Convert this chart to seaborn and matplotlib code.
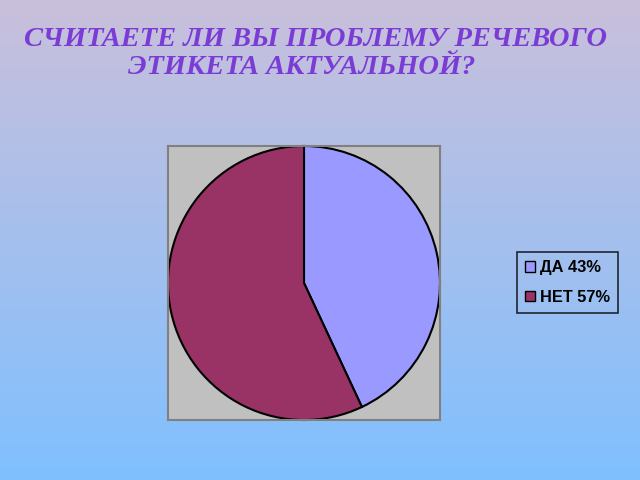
import numpy as np
import matplotlib
matplotlib.use("Agg")
import matplotlib.pyplot as plt
import seaborn as sns

# данные
labels = ["ДА 43%", "НЕТ 57%"]
values = [43, 57]
colors = ["#9999ff", "#993366"]
title_lines = ["СЧИТАЕТЕ ЛИ ВЫ ПРОБЛЕМУ РЕЧЕВОГО", "ЭТИКЕТА АКТУАЛЬНОЙ?"]

sns.set_theme(style="white")
plt.rcParams["font.family"] = ["Liberation Sans", "DejaVu Sans"]

fig = plt.figure(figsize=(6.4, 4.8), dpi=100)

# фон-градиент
bg = fig.add_axes([0, 0, 1, 1], zorder=-10)
top = np.array([0.79, 0.75, 0.86])
bottom = np.array([0.50, 0.75, 1.00])
t = np.linspace(0, 1, 256)[:, None]
grad = top * (1 - t) + bottom * t
bg.imshow(grad[:, None, :].repeat(2, axis=1), aspect="auto", extent=[0, 1, 0, 1])
bg.axis("off")

# заголовок
for (x, y), line in zip([(316, 40), (302, 68)], title_lines):
    fig.text(x / 640, 1 - y / 480, line, ha="center", va="center", color="#7a3cd4",
             fontsize=20.5, fontweight="bold", fontstyle="italic",
             family="Liberation Serif")

ax = fig.add_axes([168 / 640, 1 - 420 / 480, 272 / 640, 274 / 480])
wedges, _ = ax.pie(values, colors=colors, startangle=90, counterclock=False,
                   radius=1.0, wedgeprops=dict(edgecolor="black", linewidth=1.5))
ax.set_xlim(-1.0, 1.0)
ax.set_ylim(-1.0, 1.0)
ax.set_aspect("auto")
ax.set_frame_on(True)
ax.set_facecolor("#c0c0c0")
for s in ax.spines.values():
    s.set_visible(True)
    s.set_color("#808080")
    s.set_linewidth(1.5)
ax.set_xticks([])
ax.set_yticks([])

leg = fig.legend(wedges, labels, loc="upper left",
                 bbox_to_anchor=(517 / 640, 1 - 252 / 480),
                 bbox_transform=fig.transFigure, borderaxespad=0,
                 frameon=True, fancybox=False, edgecolor="black",
                 facecolor="none", handlelength=0.6, handleheight=0.6,
                 handletextpad=0.3, labelspacing=0.9, borderpad=0.5,
                 labelcolor="black",
                 prop=dict(family="Liberation Sans", weight="bold", size=11.8))
leg.get_frame().set_linewidth(1.2)
for h in leg.legend_handles:
    h.set_edgecolor("black")
    h.set_linewidth(1.0)

fig.savefig("out.png", dpi=100)
